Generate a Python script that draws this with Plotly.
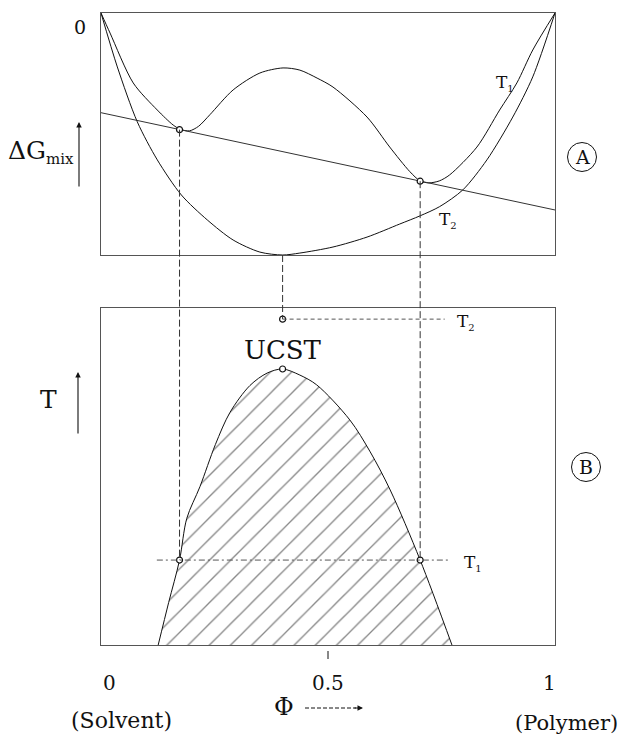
import plotly.graph_objects as go

# ---- data -------------------------------------------------------------
# Free energy of mixing vs. polymer volume fraction at two temperatures
phi_t1 = [0.0, 0.020, 0.071, 0.124, 0.159, 0.175, 0.195, 0.215, 0.240, 0.291, 0.350,
          0.401, 0.438, 0.476, 0.511, 0.586, 0.636, 0.680, 0.703, 0.722, 0.745,
          0.768, 0.828, 0.878, 0.916, 0.951, 1.0]
g_t1 = [0.0, -0.083, -0.289, -0.401, -0.463, -0.481, -0.487, -0.468, -0.420, -0.318, -0.248,
        -0.227, -0.236, -0.269, -0.306, -0.430, -0.554, -0.655, -0.694, -0.702, -0.694,
        -0.669, -0.554, -0.401, -0.289, -0.153, 0.0]

phi_t2 = [0.0, 0.036, 0.080, 0.124, 0.177, 0.234, 0.291, 0.350, 0.400, 0.438, 0.511,
          0.586, 0.658, 0.703, 0.746, 0.797, 0.850, 0.907, 0.951, 1.0]
g_t2 = [0.0, -0.223, -0.450, -0.607, -0.752, -0.855, -0.938, -0.988, -1.0, -0.992, -0.967,
        -0.926, -0.872, -0.838, -0.800, -0.731, -0.607, -0.430, -0.264, 0.0]

# Common tangent at T1
phi_tangent = [0.0, 1.0]
g_tangent = [-0.412, -0.814]

# Coexisting compositions at T1 (points of the common tangent)
phi_coex = [0.173, 0.703]
g_coex = [-0.482, -0.695]

# Phase diagram: binodal (coexistence) curve
phi_binodal = [0.126, 0.149, 0.173, 0.189, 0.218, 0.252, 0.284, 0.328, 0.366, 0.400,
               0.438, 0.475, 0.548, 0.593, 0.637, 0.703, 0.773]
t_binodal = [0.0, 0.126, 0.252, 0.376, 0.470, 0.595, 0.690, 0.770, 0.807, 0.819,
             0.801, 0.772, 0.668, 0.573, 0.460, 0.252, 0.0]

phi_crit = 0.400     # critical composition
t_ucst = 0.819       # upper critical solution temperature
g_min_t2 = -1.0      # minimum of the T2 curve
t1_level = 0.252
t2_level = 0.967

x_tick_vals = [0.0, 0.5, 1.0]
x_tick_text = ["0", "0.5", "1"]

# ---- layout geometry ---------------------------------------------------
W, H = 627, 734
ML, MR, MT, MB = 101, 72, 13, 89
PW, PH = W - ML - MR, H - MT - MB
DOM_A = [0.6171, 1.0]
DOM_B = [0.0, 0.5332]
RANGE_A = [-1.0, 0.0]
RANGE_B = [0.0, 1.0]


def paper_a(g):
    return DOM_A[0] + (g - RANGE_A[0]) / (RANGE_A[1] - RANGE_A[0]) * (DOM_A[1] - DOM_A[0])


def paper_b(t):
    return DOM_B[0] + (t - RANGE_B[0]) / (RANGE_B[1] - RANGE_B[0]) * (DOM_B[1] - DOM_B[0])


def px(xp):
    return (xp - ML) / PW


def py(yp):
    return (H - MB - yp) / PH


SERIF = "DejaVu Serif"
INK = "#111111"

fig = go.Figure()

# ---- panel A: free energy curves ----------------------------------------
fig.add_trace(go.Scatter(x=phi_t1, y=g_t1, mode="lines",
                         line=dict(color=INK, width=1, shape="spline", smoothing=0.8),
                         xaxis="x", yaxis="y", hoverinfo="skip"))
fig.add_trace(go.Scatter(x=phi_t2, y=g_t2, mode="lines",
                         line=dict(color=INK, width=1, shape="spline", smoothing=0.8),
                         xaxis="x", yaxis="y", hoverinfo="skip"))
fig.add_trace(go.Scatter(x=phi_tangent, y=g_tangent, mode="lines",
                         line=dict(color="#333333", width=1),
                         xaxis="x", yaxis="y", hoverinfo="skip"))
fig.add_trace(go.Scatter(x=phi_coex, y=g_coex, mode="markers",
                         marker=dict(size=6, color="white", line=dict(color=INK, width=1.2)),
                         xaxis="x", yaxis="y", hoverinfo="skip"))

# ---- panel B: phase diagram ---------------------------------------------
fig.add_trace(go.Scatter(x=phi_binodal, y=t_binodal, mode="lines", fill="toself",
                         fillcolor="white",
                         fillpattern=dict(shape="/", size=15, solidity=0.09,
                                          fgcolor="#111111", bgcolor="white"),
                         line=dict(color=INK, width=1, shape="spline", smoothing=0.9),
                         xaxis="x2", yaxis="y2", hoverinfo="skip"))
fig.add_trace(go.Scatter(x=[phi_coex[0], phi_coex[1], phi_crit, phi_crit],
                         y=[t1_level, t1_level, t_ucst, t2_level], mode="markers",
                         marker=dict(size=6, color="white", line=dict(color=INK, width=1.2)),
                         xaxis="x2", yaxis="y2", hoverinfo="skip", cliponaxis=False))

shapes = []
dash_v = "7px,3px"
# vertical construction lines from panel A down into panel B
for xc, gc in zip(phi_coex, g_coex):
    shapes.append(dict(type="line", xref="x", yref="paper", x0=xc, x1=xc,
                       y0=paper_a(gc), y1=paper_b(t1_level),
                       line=dict(color="#333333", width=1, dash=dash_v)))
shapes.append(dict(type="line", xref="x", yref="paper", x0=phi_crit, x1=phi_crit,
                   y0=paper_a(g_min_t2), y1=paper_b(t2_level),
                   line=dict(color="#333333", width=1, dash=dash_v)))
# temperature levels
shapes.append(dict(type="line", xref="x2", yref="y2", x0=0.123, x1=0.768,
                   y0=t1_level, y1=t1_level,
                   line=dict(color="#555555", width=1, dash="6px,3px,2px,3px")))
shapes.append(dict(type="line", xref="x2", yref="y2", x0=phi_crit, x1=0.757,
                   y0=t2_level, y1=t2_level,
                   line=dict(color="#555555", width=1, dash="4px,3px")))
# tick mark at 0.5
shapes.append(dict(type="line", xref="x2", yref="paper", x0=0.5, x1=0.5,
                   y0=py(651), y1=py(659), line=dict(color=INK, width=1)))
# Phi arrow shaft
shapes.append(dict(type="line", xref="paper", yref="paper", x0=px(305), x1=px(356),
                   y0=py(708), y1=py(708),
                   line=dict(color=INK, width=1, dash="4px,2px")))
# circled panel letters
for cx, cy in [(582, 157), (586, 467)]:
    shapes.append(dict(type="circle", xref="paper", yref="paper",
                       xsizemode="pixel", ysizemode="pixel",
                       xanchor=px(cx), yanchor=py(cy),
                       x0=-14.5, x1=14.5, y0=-14.5, y1=14.5,
                       line=dict(color=INK, width=1)))

ann = []


def text(x, y, s, size, xref="paper", yref="paper", xanchor="center", yanchor="middle",
         xshift=0, yshift=0):
    ann.append(dict(x=x, y=y, xref=xref, yref=yref, text=s, showarrow=False,
                    xanchor=xanchor, yanchor=yanchor, xshift=xshift, yshift=yshift,
                    font=dict(family=SERIF, size=size, color=INK)))


# panel A labels
text(px(80), py(27), "0", 19)
text(px(76), py(152), "ΔG<sub><span style='font-size:15px'>mix</span></sub>", 25,
     xanchor="right")
text(0.879, -0.289, "T<sub><span style='font-size:10px'>1</span></sub>", 17,
     xref="x", yref="y", xanchor="left", xshift=-6)
text(0.753, -0.855, "T<sub><span style='font-size:10px'>2</span></sub>", 17,
     xref="x", yref="y", xanchor="left", xshift=-6)
text(px(582), py(157), "A", 19)

# panel B labels
text(phi_crit, t_ucst, "UCST", 26, xref="x2", yref="y2", yanchor="bottom", yshift=2)
text(0.793, t2_level, "T<sub><span style='font-size:10px'>2</span></sub>", 17,
     xref="x2", yref="y2", xanchor="left", xshift=-6, yshift=-3)
text(0.808, t1_level, "T<sub><span style='font-size:10px'>1</span></sub>", 17,
     xref="x2", yref="y2", xanchor="left", xshift=-6, yshift=-3)
text(px(48), py(400), "T", 25)
text(px(586), py(467), "B", 19)

# x-axis labels
shifts = [8, 0, -6]
for v, s, sh in zip(x_tick_vals, x_tick_text, shifts):
    text(v, py(683), s, 20, xref="x2", xshift=sh)
text(px(284), py(707), "Φ", 24)
text(px(121), py(720), "(Solvent)", 22)
text(px(566), py(723), "(Polymer)", 21)

# arrows
arrow_style = dict(showarrow=True, arrowhead=2, arrowsize=1, arrowwidth=1.1,
                   arrowcolor=INK, text="", xref="paper", yref="paper")
ann.append(dict(x=px(79), y=py(122), ax=0, ay=66, **arrow_style))
ann.append(dict(x=px(78), y=py(372), ax=0, ay=63, **arrow_style))
ann.append(dict(x=px(363), y=py(708), ax=-10, ay=0, **arrow_style))

axis_common = dict(showgrid=False, zeroline=False, showticklabels=False, ticks="",
                   showline=True, mirror=True, linecolor="#555555", linewidth=1)

fig.update_layout(
    width=W, height=H,
    margin=dict(l=ML, r=MR, t=MT, b=MB),
    paper_bgcolor="white", plot_bgcolor="white",
    showlegend=False,
    font=dict(family=SERIF),
    xaxis=dict(domain=[0, 1], range=[0, 1], anchor="y", **axis_common),
    yaxis=dict(domain=DOM_A, range=RANGE_A, anchor="x", **axis_common),
    xaxis2=dict(domain=[0, 1], range=[0, 1], anchor="y2", **axis_common),
    yaxis2=dict(domain=DOM_B, range=RANGE_B, anchor="x2", **axis_common),
    shapes=shapes,
    annotations=ann,
)

fig.write_html("out.html")
